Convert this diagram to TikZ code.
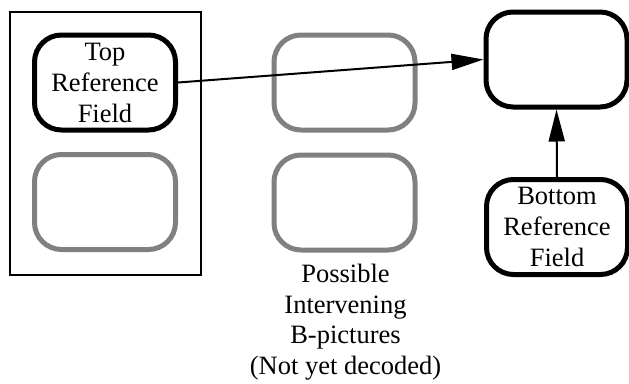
\documentclass[tikz,border=0pt]{standalone}
\usepackage{fontspec}
\setmainfont{Liberation Serif}
\usetikzlibrary{arrows.meta}
\definecolor{boxgray}{RGB}{128,128,128}
\tikzset{
  fieldbox/.style={draw=black, line width=5pt, rounded corners=27pt, minimum width=141pt, minimum height=95pt, inner sep=0pt, align=center, font=\fontsize{26.5}{31}\selectfont},
  graybox/.style={fieldbox, draw=boxgray},
  conn/.style={line width=2pt, -{Triangle[length=32pt,width=16pt]}},
  caption/.style={align=center, inner sep=0pt, font=\fontsize{26.5}{30.5}\selectfont}
}
\begin{document}
\begin{tikzpicture}[x=1pt,y=-1pt]
\useasboundingbox (0,0) rectangle (629,383);
\node[draw, line width=2pt, minimum width=191pt, minimum height=263pt, inner sep=0pt] (frame) at (105.5,143.5) {};
\node[fieldbox] (tl) at (105,82.5) {Top\\Reference\\Field};
\node[graybox] (bl) at (105,202) {};
\node[graybox] (mt) at (344.5,82.5) {};
\node[graybox] (mb) at (344.5,202.5) {};
\node[fieldbox] (rt) at (556.5,59.5) {};
\node[fieldbox] (rb) at (557,227) {Bottom\\Reference\\Field};
\node[caption] (cap) at (345.5,322) {Possible\\Intervening\\B-pictures\\(Not yet decoded)};
\draw[conn] (tl.east) -- (rt.west);
\draw[conn] (rb.north) -- (rt.south);
\end{tikzpicture}
\end{document}
